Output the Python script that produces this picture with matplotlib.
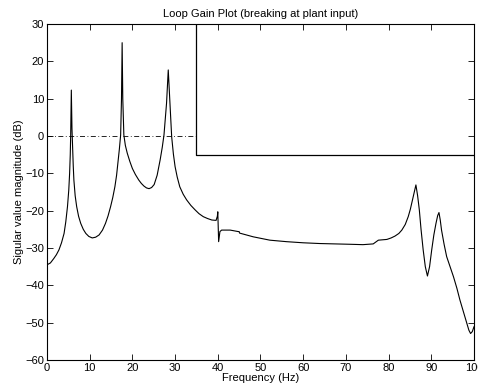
import matplotlib

matplotlib.use("Agg")

import matplotlib.pyplot as plt

# Singular value curve (Hz, dB)
freq = [0.0, 0.8, 1.6, 2.2, 2.8, 3.4, 4.0, 4.4, 4.8, 5.1, 5.3, 5.45, 5.55, 5.7,
        5.85, 6.0, 6.15, 6.3, 6.6, 6.95, 7.4, 7.9, 8.5, 9.1, 9.8, 10.6, 11.4, 12.2,
        13.0, 13.7, 14.3, 14.9, 15.4, 15.9, 16.3, 16.6, 16.95, 17.25, 17.45, 17.6,
        17.75, 18.0, 18.35, 18.8, 19.4, 20.0, 20.7, 21.5, 22.1, 22.7, 23.3, 23.9,
        24.5, 25.1, 25.8, 26.5, 27.0, 27.4, 28.0, 28.4, 28.8, 29.2, 29.6, 30.0,
        30.5, 31.1, 31.9, 32.7, 33.7, 34.7, 35.6, 36.6, 37.6, 38.6, 39.6, 39.9,
        40.0, 40.1, 40.2, 40.5, 40.9, 42.9, 44.8, 45.0, 45.1, 48.3, 52.2, 56.1,
        60.0, 63.9, 67.8, 71.0, 74.0, 76.4, 77.6, 79.6, 80.6, 81.5, 82.4, 83.1,
        83.9, 84.6, 85.1, 85.6, 86.0, 86.4, 86.8, 87.2, 87.6, 88.1, 88.6, 89.1,
        89.6, 90.1, 90.6, 91.1, 91.5, 91.8, 92.1, 92.4, 93.0, 93.6, 94.4, 95.2,
        96.0, 96.7, 97.5, 98.3, 98.8, 99.2, 99.6, 100.0]
mag_db = [-34.5, -34.0, -32.8, -31.8, -30.5, -28.6, -26.1, -23.0, -18.9, -14.5, -10.0, -5.0, 0.3, 12.3,
          2.0, -2.9, -8.0, -11.8, -16.0, -18.9, -21.5, -23.4, -25.0, -26.1, -26.9, -27.3, -27.1, -26.5,
          -25.2, -23.4, -21.4, -18.9, -16.5, -13.6, -10.5, -7.3, -3.5, 0.3, 10.0, 25.0,
          10.0, 0.3, -2.5, -4.6, -6.8, -8.7, -10.3, -11.8, -12.7, -13.4, -13.9, -14.1,
          -13.8, -13.0, -10.5, -6.4, -3.0, 0.3, 8.8, 17.7, 8.8, -0.2, -4.8, -8.2,
          -11.0, -13.6, -15.6, -17.1, -18.6, -19.8, -20.8, -21.6, -22.1, -22.5, -22.6, -21.5,
          -20.3, -24.0, -28.3, -25.6, -25.2, -25.2, -25.6, -25.6, -26.0, -27.0, -27.9, -28.3,
          -28.6, -28.8, -28.9, -29.0, -29.1, -28.9, -27.9, -27.7, -27.3, -26.8, -26.1, -25.2,
          -23.7, -21.6, -19.6, -17.1, -15.0, -13.1, -16.0, -19.8, -25.0, -30.5, -35.0, -37.5,
          -35.0, -30.5, -26.5, -23.4, -21.3, -20.5, -22.5, -25.2, -29.0, -32.3, -35.0, -37.7,
          -40.8, -43.9, -47.0, -50.2, -52.0, -52.9, -52.4, -51.1]

# Unity gain reference and the robustness bound
unity_freq = [0, 35]
unity_db = [0, 0]
bound_freq = [35, 35, 100]
bound_db = [40, -5, -5]

plt.rcParams["font.family"] = ["Liberation Sans", "DejaVu Sans"]
plt.rcParams["font.size"] = 8

fig = plt.figure(figsize=(4.78, 3.90), dpi=100)
ax = fig.add_axes([0.0983, 0.0769, 0.8933, 0.8615])

ax.plot(freq, mag_db, color="black", linewidth=0.8)
ax.plot(unity_freq, unity_db, color="black", linewidth=0.6, linestyle="-.", dashes=(6, 3, 1, 3))
ax.plot(bound_freq, bound_db, color="black", linewidth=0.9)

ax.set_xlim(0, 100)
ax.set_ylim(-60, 30)
ax.set_xticks(range(0, 101, 10))
ax.set_yticks(range(-60, 31, 10))
ax.tick_params(direction="in", length=4, width=0.6, top=True, right=True, pad=2)
for spine in ax.spines.values():
    spine.set_linewidth(0.8)

ax.set_title("Loop Gain Plot (breaking at plant input)", fontsize=8, pad=5)
ax.set_xlabel("Frequency (Hz)", labelpad=0)
ax.set_ylabel("Sigular value magnitude (dB)", labelpad=1)

fig.savefig("out.png", dpi=100)
plt.close(fig)
